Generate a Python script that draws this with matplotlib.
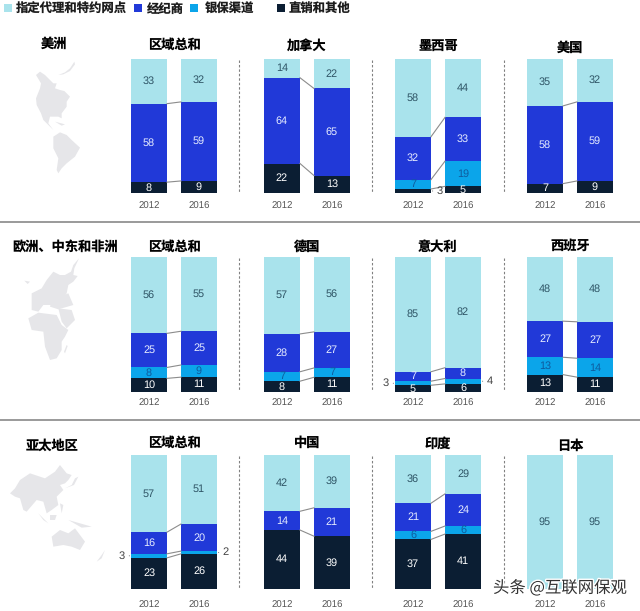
import matplotlib
matplotlib.use("Agg")
import matplotlib.pyplot as plt
from matplotlib.patches import Polygon
import matplotlib.patheffects as pe
import numpy as np

plt.rcParams["font.family"] = ["Noto Sans CJK SC", "DejaVu Sans"]
plt.rcParams["text.hinting"] = "none"

W, H = 640, 611

# dados, na ordem dos paineis (linha a linha)
paineis = ["区域总和", "加拿大", "墨西哥", "美国",
           "区域总和", "德国", "意大利", "西班牙",
           "区域总和", "中国", "印度", "日本"]
regioes = ["美洲", "欧洲、中东和非洲", "亚太地区"]
anos = ["2012", "2016"]
legenda = ["指定代理和特约网点", "经纪商", "银保渠道", "直销和其他"]

agente_2012 = [33, 14, 58, 35, 56, 57, 85, 48, 57, 42, 36, 95]
corretor_2012 = [58, 64, 32, 58, 25, 28, 7, 27, 16, 14, 21, 0]
banco_2012 = [0, 0, 7, 0, 8, 7, 3, 13, 3, 0, 6, 0]
direto_2012 = [8, 22, 3, 7, 10, 8, 5, 13, 23, 44, 37, 0]

agente_2016 = [32, 22, 44, 32, 55, 56, 82, 48, 51, 39, 29, 95]
corretor_2016 = [59, 65, 33, 59, 25, 27, 8, 27, 20, 21, 24, 0]
banco_2016 = [0, 0, 19, 0, 9, 7, 4, 14, 2, 0, 6, 0]
direto_2016 = [9, 13, 5, 9, 11, 11, 6, 11, 26, 39, 41, 0]

# de baixo para cima
serie_2012 = [direto_2012, banco_2012, corretor_2012, agente_2012]
serie_2016 = [direto_2016, banco_2016, corretor_2016, agente_2016]
cores = ["#0b1e33", "#0ba5ea", "#2139d8", "#a9e3ec"]
cores_txt = ["#ffffff", "#0f5c9e", "#e6ecff", "#2f5566"]
cores_leg = [cores[3], cores[2], cores[1], cores[0]]

# layout em pixels
col_x = [131, 264, 395, 527]
lin_topo = [59, 257, 455]
lin_base = [193, 392, 589]
ano_y = [206, 403, 605]
larg_painel = 86
larg_barra = 0.72

fig = plt.figure(figsize=(W / 100, H / 100), dpi=100, facecolor="white")

# camada de fundo em pixels: mapas, separadores, legenda, titulos
bg = fig.add_axes([0, 0, 1, 1], zorder=0)
bg.set_xlim(0, W)
bg.set_ylim(H, 0)
bg.axis("off")


def mapa(origem, formas):
    for f in formas:
        pts = np.array(f) / 3 + origem
        bg.add_patch(Polygon(pts, closed=True, fc="#e6e6e9", ec="none"))


mapa((25, 55), [
    [(33, 60), (45, 50), (60, 60), (75, 75), (85, 85), (95, 85), (90, 100), (105, 105), (118, 108),
     (135, 125), (125, 140), (125, 155), (110, 175), (110, 190), (100, 185), (75, 185), (70, 205),
     (85, 225), (72, 212), (55, 195), (48, 175), (35, 150), (33, 130), (45, 100), (48, 85)],
    [(100, 60), (120, 52), (135, 40), (148, 20), (150, 28), (135, 48), (115, 58)],
    [(90, 200), (120, 208), (110, 212)],
    [(85, 245), (105, 232), (125, 240), (140, 255), (165, 278), (150, 305), (125, 325), (110, 340),
     (100, 355), (95, 345), (100, 310), (85, 280)],
])
mapa((15, 250), [
    [(50, 130), (60, 125), (80, 115), (95, 90), (115, 65), (135, 75), (150, 75), (168, 65), (175, 45),
     (192, 25), (178, 55), (175, 75), (188, 78), (175, 95), (160, 105), (155, 130), (140, 150),
     (125, 150), (115, 165), (85, 165), (70, 185), (50, 180), (50, 155)],
    [(110, 150), (160, 130), (175, 165), (130, 178), (105, 170)],
    [(40, 205), (70, 188), (125, 195), (140, 225), (160, 240), (150, 260), (140, 275), (140, 300),
     (125, 325), (105, 330), (90, 290), (85, 245), (50, 240)],
    [(130, 175), (170, 180), (180, 210), (155, 235), (140, 215)],
    [(28, 92), (45, 95), (38, 102)],
    [(155, 285), (158, 288), (150, 310), (147, 305)],
])
mapa((0, 455), [
    [(30, 115), (45, 100), (60, 75), (90, 55), (105, 60), (135, 70), (165, 50), (180, 30), (200, 55),
     (215, 60), (205, 75), (195, 85), (180, 90), (190, 105), (170, 125), (175, 150), (155, 165),
     (140, 175), (130, 140), (110, 135), (80, 170), (70, 165), (60, 130), (45, 125)],
    [(195, 100), (215, 90), (225, 70), (235, 65), (222, 90)],
    [(115, 175), (145, 205), (130, 195)],
    [(150, 180), (170, 180), (165, 195), (150, 195)],
    [(205, 195), (240, 205), (275, 215), (245, 218)],
    [(180, 145), (190, 150), (185, 175)],
    [(155, 245), (180, 225), (205, 235), (225, 220), (255, 260), (240, 285), (215, 275), (190, 270), (160, 275)],
    [(315, 285), (305, 310), (290, 320), (305, 300)],
])

# separadores
for y in [222, 420]:
    bg.plot([0, W], [y, y], color="#9a9a9a", lw=1.4)
for t, b in zip(lin_topo, lin_base):
    for x in [239, 371.5, 503.5]:
        bg.plot([x, x], [t + 1, b - 1], color="#808080", lw=0.8, ls=(0, (2.2, 1.8)))

# legenda
quad_x = [4, 134, 190, 277]
txt_x = [16, 147, 205, 289]
for qx, tx, nome, c in zip(quad_x, txt_x, legenda, cores_leg):
    bg.add_patch(plt.Rectangle((qx, 4), 8, 8, fc=c, ec="none"))
    bg.text(tx, 9, nome, fontsize=8.9, fontweight="bold", color="#1c1c1c", va="center", ha="left")

# regioes
for nome, x, y in zip(regioes, [54, 65, 52], [44, 247, 446]):
    bg.text(x, y, nome, fontsize=9.5, fontweight="bold", color="black", ha="center", va="center")

titulo_y = [45, 47, 47, 48, 247, 247, 247, 246, 443, 443, 444, 446]

for i, nome in enumerate(paineis):
    lin, col = divmod(i, 4)
    x0 = col_x[col]
    t, b = lin_topo[lin], lin_base[lin]
    ax = fig.add_axes([x0 / W, 1 - b / H, larg_painel / W, (b - t) / H], zorder=1)
    ax.patch.set_alpha(0)
    ax.set_xlim(-larg_barra / 2, 1 + larg_barra / 2)
    ax.set_ylim(0, 100)
    ax.axis("off")

    bordas = []
    for pos, serie in enumerate([serie_2012, serie_2016]):
        vals = np.array([s[i] for s in serie], dtype=float)
        esc = 100 / vals.sum()
        base = np.concatenate([[0], np.cumsum(vals * esc)])
        bordas.append(base)
        for k in range(4):
            v = vals[k]
            if v == 0:
                continue
            ax.bar(pos, v * esc, width=larg_barra, bottom=base[k], color=cores[k], lw=0)
            meio = base[k] + v * esc / 2
            if v <= 4:
                # valor pequeno vai para fora da barra
                lado = -1 if (pos == 0 and k == 1) else 1
                xb = pos + lado * larg_barra / 2
                ax.annotate(str(int(v)), xy=(xb, meio), xytext=(lado * 6.5, 0), textcoords="offset points",
                            ha="center", va="center", fontsize=8, color="#444444",
                            family=["Liberation Sans"], annotation_clip=False,
                            arrowprops=dict(arrowstyle="-", color="#666666", lw=0.6, shrinkA=1, shrinkB=1))
            else:
                ax.text(pos, meio, str(int(v)), ha="center", va="center", fontsize=7.8,
                        color=cores_txt[k], family=["Liberation Sans"])
        bg.text(x0 + 18 + 50 * pos, ano_y[lin], anos[pos], ha="center", va="center", fontsize=6.9,
                color="#555555", family=["Liberation Sans"])

    # linhas ligando os segmentos
    for k in range(1, 4):
        a, d = bordas[0][k], bordas[1][k]
        if serie_2012[k - 1][i] == 0 and serie_2016[k - 1][i] == 0:
            continue
        ax.plot([larg_barra / 2, 1 - larg_barra / 2], [a, d], color="#8c8c8c", lw=0.8, clip_on=False)

    bg.text(x0 + larg_painel / 2, titulo_y[i], nome, fontsize=9.5, fontweight="bold",
            color="black", ha="center", va="center")

# marca d'agua
marca = fig.text(493 / W, 1 - 588 / H, "头条 @互联网保观", fontsize=11.8, color="#333333",
                 ha="left", va="center", zorder=5)
marca.set_path_effects([pe.withStroke(linewidth=2, foreground="white")])

fig.savefig("out.png", dpi=100)
